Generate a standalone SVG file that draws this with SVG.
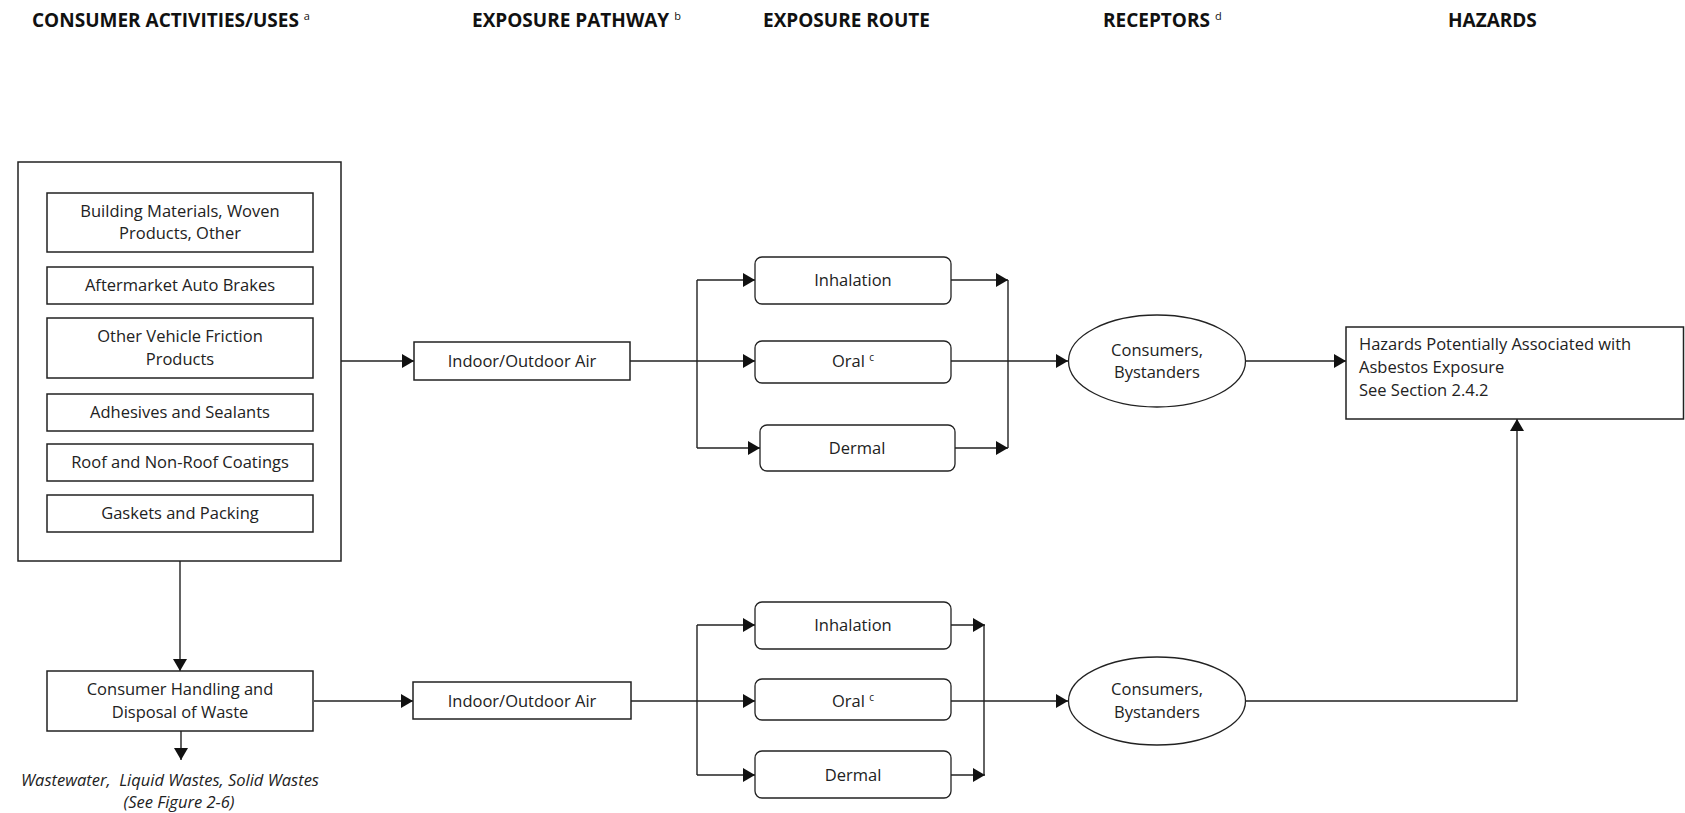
<svg xmlns="http://www.w3.org/2000/svg" width="1685" height="813" viewBox="0 0 1685 813">
<style>
  .hdr { font-family: "Open Sans", "Liberation Sans", sans-serif; font-weight: bold; font-size: 19px; fill: #111; }
  .sup { font-size: 11px; font-weight: normal; }
  .t { font-family: "Open Sans", "Liberation Sans", sans-serif; font-size: 16.5px; fill: #222; text-anchor: middle; }
  .tl { font-family: "Open Sans", "Liberation Sans", sans-serif; font-size: 16.5px; fill: #222; }
  .it { font-style: italic; }
  .box { fill: #fff; stroke: #222; stroke-width: 1.5; }
  .rbox { fill: #fff; stroke: #222; stroke-width: 1.3; }
  .ell { fill: #fff; stroke: #222; stroke-width: 1.3; }
  .ln { fill: none; stroke: #222; stroke-width: 1.4; }
  .arr { fill: none; stroke: #222; stroke-width: 1.4; marker-end: url(#ah); }
</style>
<defs>
  <marker id="ah" markerUnits="userSpaceOnUse" markerWidth="12" markerHeight="14" viewBox="0 0 12 14" refX="12" refY="7" orient="auto">
    <path d="M0,0 L12,7 L0,14 Z" fill="#111"/>
  </marker>
</defs>

<g id="headers">
  <text class="hdr" x="32" y="27">CONSUMER ACTIVITIES/USES <tspan class="sup" dy="-7">a</tspan></text>
  <text class="hdr" x="472" y="27">EXPOSURE PATHWAY <tspan class="sup" dy="-7">b</tspan></text>
  <text class="hdr" x="763" y="27">EXPOSURE ROUTE</text>
  <text class="hdr" x="1103" y="27">RECEPTORS <tspan class="sup" dy="-7">d</tspan></text>
  <text class="hdr" x="1448" y="27">HAZARDS</text>
</g>

<g id="connectors">
  <line class="arr" x1="341" y1="361" x2="414" y2="361"/>
  <line class="arr" x1="630" y1="361" x2="755" y2="361"/>
  <path class="ln" d="M697,280 L697,448"/>
  <line class="arr" x1="697" y1="280" x2="755" y2="280"/>
  <line class="arr" x1="697" y1="448" x2="760" y2="448"/>
  <line class="arr" x1="951" y1="280" x2="1008" y2="280"/>
  <line class="arr" x1="955" y1="448" x2="1008" y2="448"/>
  <path class="ln" d="M1008,280 L1008,448"/>
  <line class="arr" x1="951" y1="361" x2="1068" y2="361"/>
  <line class="arr" x1="1245" y1="361" x2="1346" y2="361"/>

  <line class="arr" x1="180" y1="561" x2="180" y2="671"/>
  <line class="arr" x1="181" y1="731" x2="181" y2="760"/>

  <line class="arr" x1="314" y1="701" x2="413" y2="701"/>
  <line class="arr" x1="631" y1="701" x2="755" y2="701"/>
  <path class="ln" d="M697,625 L697,775"/>
  <line class="arr" x1="697" y1="625" x2="755" y2="625"/>
  <line class="arr" x1="697" y1="775" x2="755" y2="775"/>
  <line class="arr" x1="951" y1="625" x2="985" y2="625"/>
  <line class="arr" x1="951" y1="775" x2="985" y2="775"/>
  <path class="ln" d="M984,625 L984,775"/>
  <line class="arr" x1="951" y1="701" x2="1068" y2="701"/>
  <polyline class="arr" points="1245,701 1517,701 1517,419"/>
</g>

<g id="uses-group">
  <rect class="box" x="18" y="162" width="323" height="399"/>
</g>
<g id="building-materials">
  <rect class="box" x="47" y="193" width="266" height="59"/>
  <text class="t" x="180" y="217">Building Materials, Woven</text>
  <text class="t" x="180" y="239">Products, Other</text>
</g>
<g id="auto-brakes">
  <rect class="box" x="47" y="267" width="266" height="37"/>
  <text class="t" x="180" y="291">Aftermarket Auto Brakes</text>
</g>
<g id="friction-products">
  <rect class="box" x="47" y="318" width="266" height="60"/>
  <text class="t" x="180" y="342">Other Vehicle Friction</text>
  <text class="t" x="180" y="365">Products</text>
</g>
<g id="adhesives">
  <rect class="box" x="47" y="394" width="266" height="37"/>
  <text class="t" x="180" y="418">Adhesives and Sealants</text>
</g>
<g id="coatings">
  <rect class="box" x="47" y="444" width="266" height="37"/>
  <text class="t" x="180" y="468">Roof and Non-Roof Coatings</text>
</g>
<g id="gaskets">
  <rect class="box" x="47" y="495" width="266" height="37"/>
  <text class="t" x="180" y="519">Gaskets and Packing</text>
</g>

<g id="waste-handling">
  <rect class="box" x="47" y="671" width="266" height="60"/>
  <text class="t" x="180" y="695">Consumer Handling and</text>
  <text class="t" x="180" y="718">Disposal of Waste</text>
</g>
<g id="waste-note">
  <text class="t it" x="170" y="786" xml:space="preserve">Wastewater,  Liquid Wastes, Solid Wastes</text>
  <text class="t it" x="179" y="808">(See Figure 2-6)</text>
</g>

<g id="air-top">
  <rect class="box" x="414" y="342" width="216" height="38"/>
  <text class="t" x="522" y="367">Indoor/Outdoor Air</text>
</g>
<g id="air-bottom">
  <rect class="box" x="413" y="682" width="218" height="37"/>
  <text class="t" x="522" y="707">Indoor/Outdoor Air</text>
</g>

<g id="inhalation-top">
  <rect class="rbox" x="755" y="257" width="196" height="47" rx="7"/>
  <text class="t" x="853" y="286">Inhalation</text>
</g>
<g id="oral-top">
  <rect class="rbox" x="755" y="341" width="196" height="42" rx="7"/>
  <text class="t" x="853" y="367">Oral <tspan font-size="10" dy="-6">c</tspan></text>
</g>
<g id="dermal-top">
  <rect class="rbox" x="760" y="425" width="195" height="46" rx="7"/>
  <text class="t" x="857" y="454">Dermal</text>
</g>

<g id="inhalation-bottom">
  <rect class="rbox" x="755" y="602" width="196" height="47" rx="7"/>
  <text class="t" x="853" y="631">Inhalation</text>
</g>
<g id="oral-bottom">
  <rect class="rbox" x="755" y="679" width="196" height="41" rx="7"/>
  <text class="t" x="853" y="707">Oral <tspan font-size="10" dy="-6">c</tspan></text>
</g>
<g id="dermal-bottom">
  <rect class="rbox" x="755" y="751" width="196" height="47" rx="7"/>
  <text class="t" x="853" y="781">Dermal</text>
</g>

<g id="receptors-top">
  <ellipse class="ell" cx="1157" cy="361" rx="88.5" ry="46"/>
  <text class="t" x="1157" y="356">Consumers,</text>
  <text class="t" x="1157" y="378">Bystanders</text>
</g>
<g id="receptors-bottom">
  <ellipse class="ell" cx="1157" cy="701" rx="88.5" ry="44"/>
  <text class="t" x="1157" y="695">Consumers,</text>
  <text class="t" x="1157" y="718">Bystanders</text>
</g>

<g id="hazards">
  <rect class="box" x="1346" y="327" width="337.5" height="92"/>
  <text class="tl" x="1359" y="350">Hazards Potentially Associated with</text>
  <text class="tl" x="1359" y="373">Asbestos Exposure</text>
  <text class="tl" x="1359" y="396">See Section 2.4.2</text>
</g>
</svg>
